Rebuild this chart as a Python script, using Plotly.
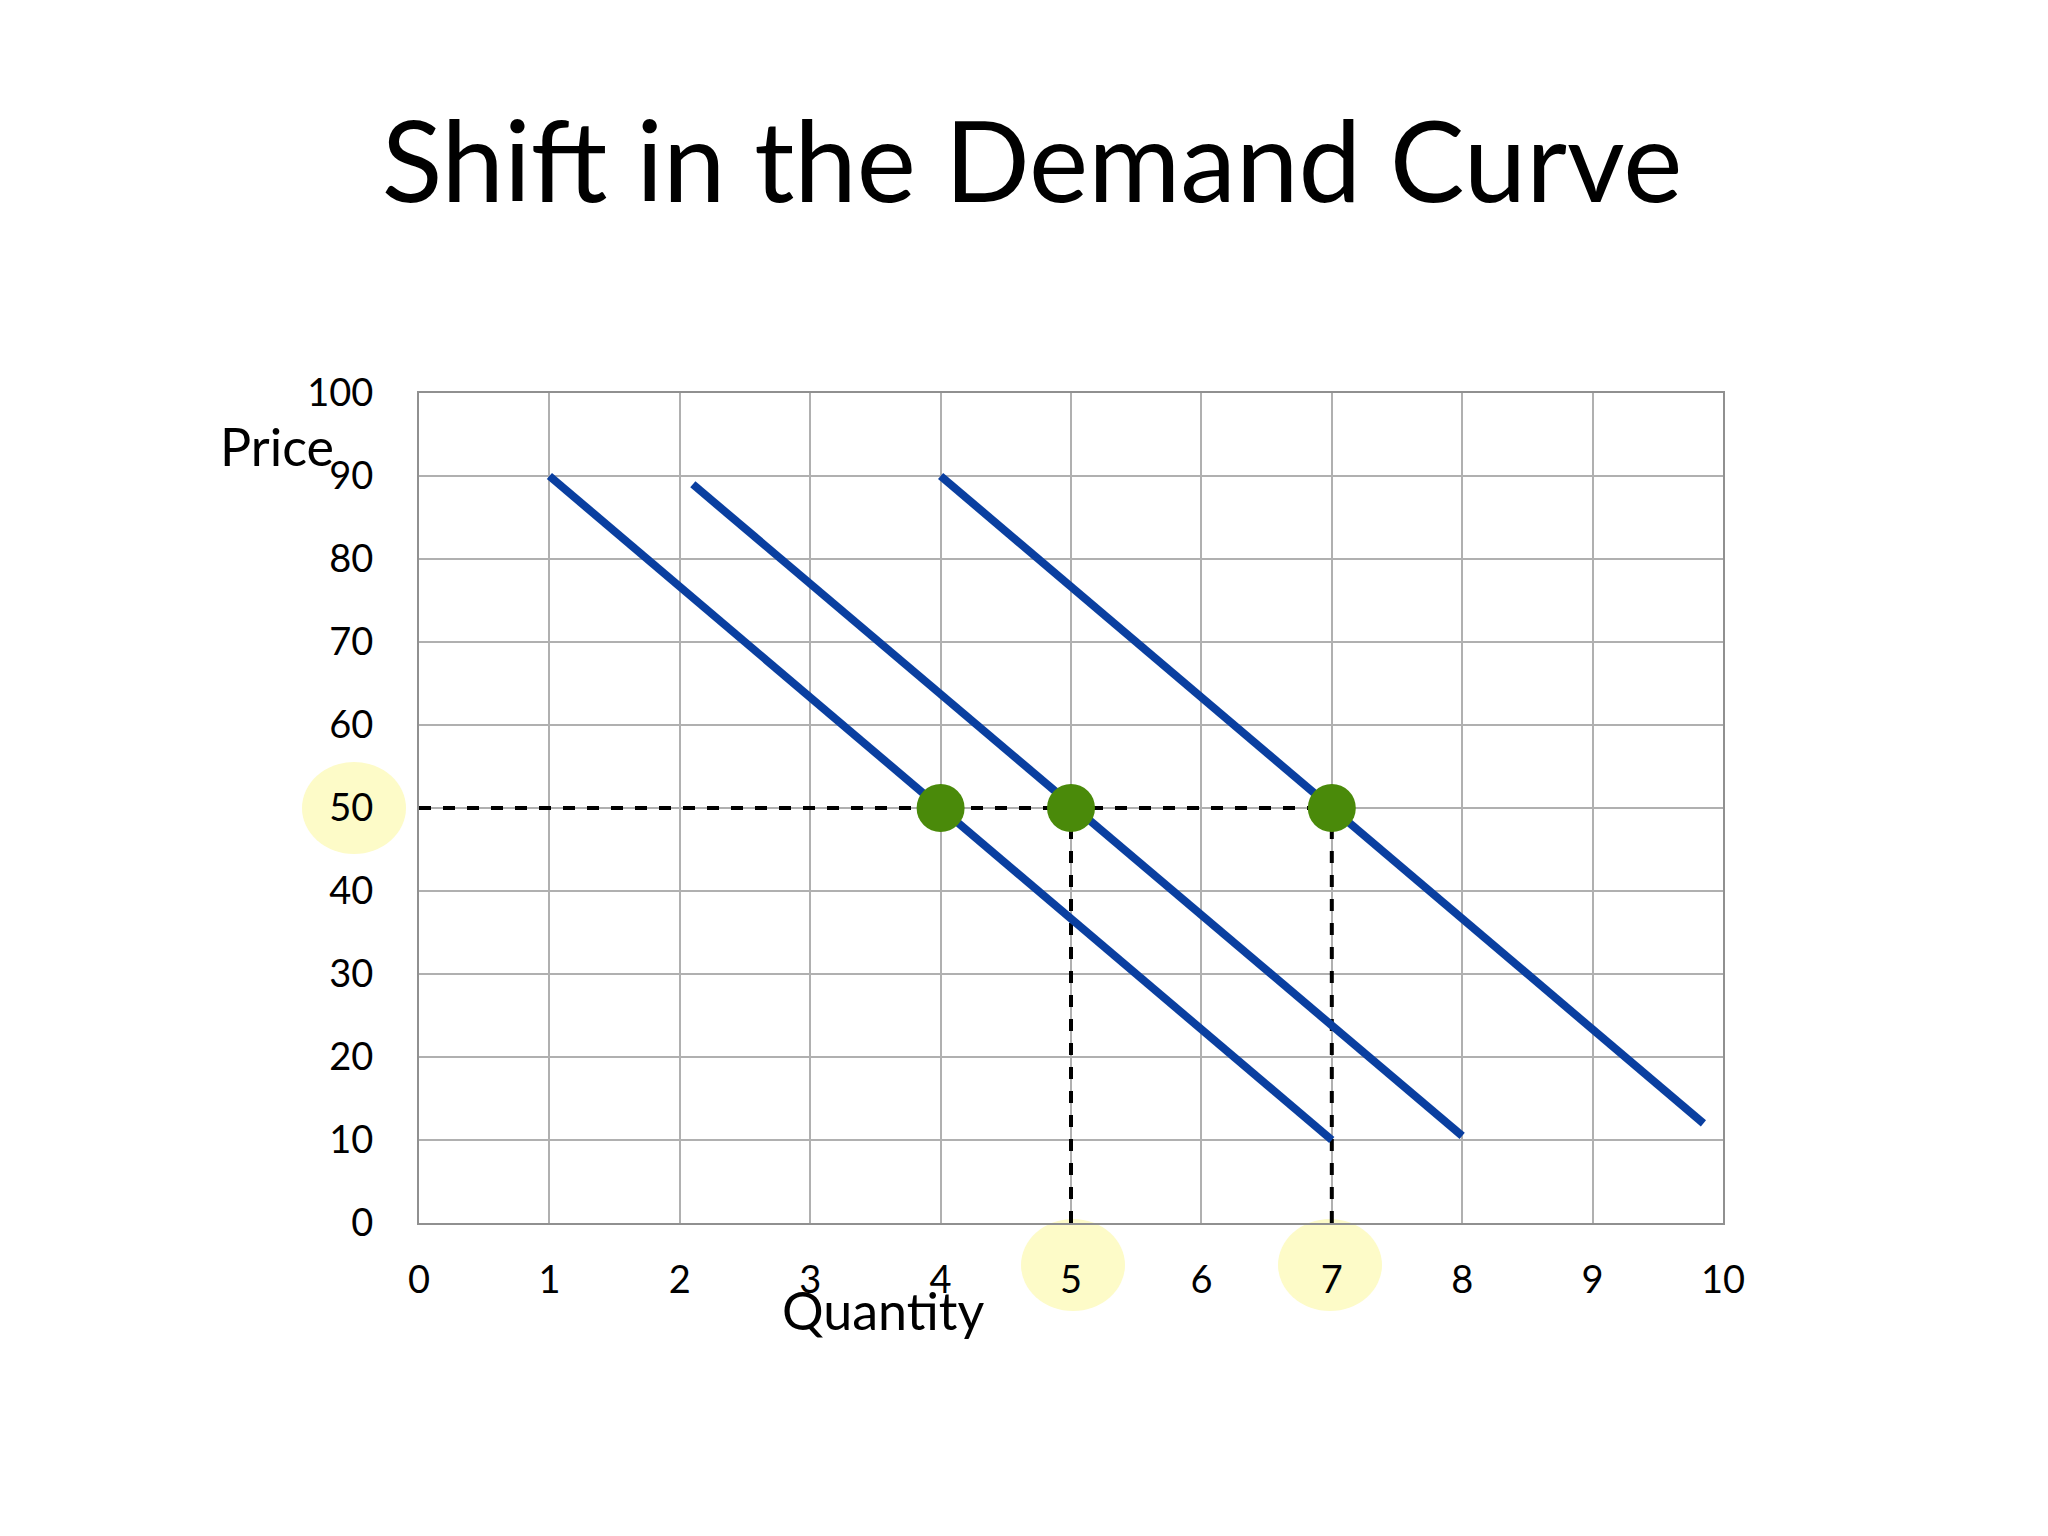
import plotly.graph_objects as go

# demand curves (quantity, price) end points
d1_q = [1, 7]
d1_p = [90, 10]
d2_q = [2.1, 8]
d2_p = [89, 10.5]
d3_q = [4, 9.85]
d3_p = [90, 12]

eq_q = [4, 5, 7]
eq_p = [50, 50, 50]

x_ticks = list(range(0, 11))
y_ticks = list(range(0, 101, 10))

blue = "#0a3fa0"
font = "Lato, DejaVu Sans, sans-serif"
L, R, T, B = 411, 333, 385, 321
W, H = 2048, 1536

fig = go.Figure()

# dashed guide lines
fig.add_trace(go.Scatter(x=[0, 7], y=[50, 50], mode="lines",
                         line=dict(color="black", width=4, dash="dash")))
for q in [5, 7]:
    fig.add_trace(go.Scatter(x=[q, q], y=[0, 50], mode="lines",
                             line=dict(color="black", width=4, dash="dash")))

for qs, ps in [(d1_q, d1_p), (d2_q, d2_p), (d3_q, d3_p)]:
    fig.add_trace(go.Scatter(x=qs, y=ps, mode="lines",
                             line=dict(color=blue, width=8)))

fig.add_trace(go.Scatter(x=eq_q, y=eq_p, mode="markers",
                         marker=dict(size=48, color="#4a8a0a"), cliponaxis=False))


def px_x(p):
    return (p - L) / (W - L - R)


def px_y(p):
    return (H - p - B) / (H - T - B)


# yellow highlight circles behind tick labels (pixel positions)
shapes = []
for cx, cy in [(346, 800), (1065, 1257), (1322, 1257)]:
    shapes.append(dict(type="circle", xref="paper", yref="paper",
                       x0=px_x(cx - 52), x1=px_x(cx + 52),
                       y0=px_y(cy + 46), y1=px_y(cy - 46),
                       fillcolor="#fdfbc8", line=dict(width=0), layer="below"))

fig.update_layout(
    width=W, height=H, showlegend=False,
    paper_bgcolor="white", plot_bgcolor="rgba(0,0,0,0)",
    margin=dict(l=L, r=R, t=T, b=B),
    font=dict(family=font, color="black"),
    title=dict(text="Shift in the Demand Curve", x=0.5, y=0.925, xanchor="center",
               font=dict(size=112, family=font)),
    shapes=shapes,
    annotations=[
        dict(text="Price", x=px_x(210), y=px_y(405), xref="paper", yref="paper",
             showarrow=False, font=dict(size=52)),
        dict(text="Quantity", x=px_x(875), y=px_y(1335), xref="paper", yref="paper",
             showarrow=False, font=dict(size=52)),
    ],
)

fig.update_xaxes(range=[0, 10], tickvals=x_ticks, showgrid=True, gridcolor="#b0b0b0",
                 gridwidth=2, showline=True, linecolor="#909090", linewidth=2, mirror=True,
                 tickfont=dict(size=38), ticks="", zeroline=False, ticklabelstandoff=22)
fig.update_yaxes(range=[0, 100], tickvals=y_ticks, showgrid=True, gridcolor="#b0b0b0",
                 gridwidth=2, showline=True, linecolor="#909090", linewidth=2, mirror=True,
                 tickfont=dict(size=38), ticks="", zeroline=False, ticklabelstandoff=36)

fig.write_html("out.html")
